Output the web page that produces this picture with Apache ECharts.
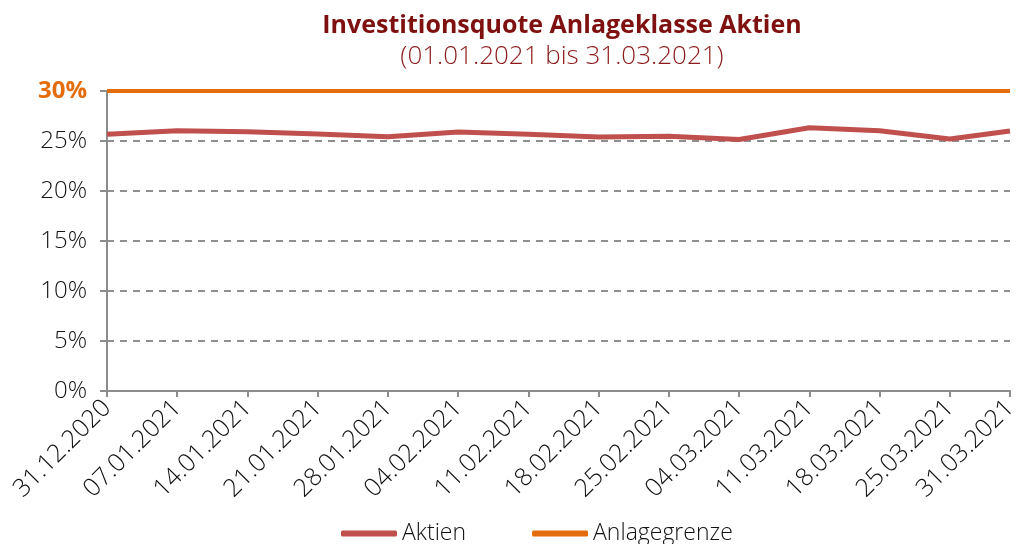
<!DOCTYPE html>
<html>
<head>
<meta charset="utf-8">
<script src="https://cdn.jsdelivr.net/npm/echarts@6/dist/echarts.min.js"></script>
<style>html,body{margin:0;padding:0;background:#fff}#c{width:1021px;height:544px}</style>
</head>
<body>
<div id="c"></div>
<script>
const categories = ['31.12.2020','07.01.2021','14.01.2021','21.01.2021','28.01.2021','04.02.2021','11.02.2021','18.02.2021','25.02.2021','04.03.2021','11.03.2021','18.03.2021','25.03.2021','31.03.2021'];
const aktien = [25.67, 26.03, 25.93, 25.7, 25.43, 25.9, 25.67, 25.4, 25.47, 25.15, 26.33, 26.03, 25.2, 26.0];
const anlagegrenze = [30, 30, 30, 30, 30, 30, 30, 30, 30, 30, 30, 30, 30, 30];
const yTicks = [0, 5, 10, 15, 20, 25, 30];

function toDate(s){ const p = s.split('.'); return Date.UTC(+p[2], +p[1]-1, +p[0]); }
const t0 = toDate(categories[0]);
const days = categories.map(c => Math.round((toDate(c) - t0) / 86400000));
const labelByDay = {}; days.forEach((d,i)=>labelByDay[d]=categories[i]);

const FONT = '"Open Sans", "Noto Sans", sans-serif';
const LW = 300;
const chart = echarts.init(document.getElementById('c'), null, {renderer:'canvas'});
chart.setOption({
  animation: false,
  title: {
    text: 'Investitionsquote Anlageklasse Aktien',
    subtext: '(01.01.2021 bis 31.03.2021)',
    left: 557, top: 8, textAlign: 'center', itemGap: 6,
    textStyle: {fontFamily: FONT, fontSize: 25, fontWeight: 'bold', color: '#7f1010'},
    subtextStyle: {fontFamily: FONT, fontSize: 26, fontWeight: LW, color: '#8b1a1a'}
  },
  legend: {
    left: 341, top: 522, padding: 0, itemGap: 66, itemWidth: 56, itemHeight: 6, icon: 'roundRect',
    textStyle: {fontFamily: FONT, fontSize: 23, fontWeight: LW, color: '#111'},
    data: ['Aktien', 'Anlagegrenze']
  },
  grid: {left: 107, right: 11, top: 91, bottom: 153, containLabel: false},
  xAxis: {
    type: 'value', min: days[0], max: days[days.length-1], interval: 7,
    axisLine: {show: true, lineStyle: {color: '#8c8c8c', width: 2}},
    axisTick: {show: true, length: 6, lineStyle: {color: '#8c8c8c', width: 2}},
    splitLine: {show: false},
    axisLabel: {
      rotate: 45, margin: 13, showMaxLabel: true, showMinLabel: true,
      fontFamily: FONT, fontSize: 25, fontWeight: LW, color: '#111',
      formatter: v => labelByDay[v] || ''
    }
  },
  yAxis: {
    type: 'value', min: yTicks[0], max: yTicks[yTicks.length-1], interval: 5,
    axisLine: {show: true, lineStyle: {color: '#8c8c8c', width: 2}},
    axisTick: {show: true, length: 7, lineStyle: {color: '#8c8c8c', width: 2}},
    splitLine: {show: true, lineStyle: {color: '#8f8f8f', width: 2, type: [7, 6]}},
    axisLabel: {
      margin: 20, fontFamily: FONT, fontSize: 24, fontWeight: LW, color: '#111',
      formatter: v => v === 30 ? '{o|' + v + '%}' : v + '%',
      rich: {o: {fontFamily: FONT, fontSize: 24, fontWeight: 'bold', color: '#e46c0a'}}
    }
  },
  series: [
    {name: 'Aktien', type: 'line', symbol: 'none', z: 3,
     data: days.map((d,i)=>[d, aktien[i]]),
     lineStyle: {color: '#c0504d', width: 5}, itemStyle: {color: '#c0504d'}},
    {name: 'Anlagegrenze', type: 'line', symbol: 'none', z: 2,
     data: days.map((d,i)=>[d, anlagegrenze[i]]),
     lineStyle: {color: '#e46c0a', width: 4}, itemStyle: {color: '#e46c0a'}}
  ]
});
</script>
</body>
</html>
